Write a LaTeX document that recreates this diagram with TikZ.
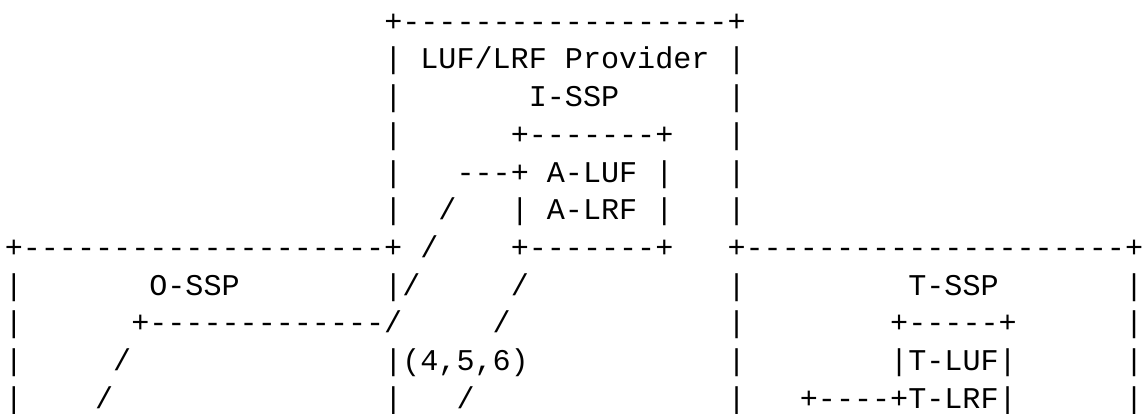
\documentclass[tikz,border=0pt]{standalone}
\usepackage{fontspec}
\setmonofont{Liberation Mono}
\tikzset{asc/.style={anchor=base west, inner sep=0pt, outer sep=0pt, text=black,
  font=\ttfamily\fontsize{30.11pt}{37.7pt}\selectfont}}
\newcommand\asciiseg[4]{\node[asc] (#1) at ({4.8pt+18.07pt*(#3)},{381.7pt-37.7pt*(#2)}) {#4};}
\begin{document}
\begin{tikzpicture}
\fill[white] (0,0) rectangle (1143pt,413pt);
\useasboundingbox (0,0) rectangle (1143pt,413pt);
% row 0
\asciiseg{r0a}{0}{21}{+------------------+}
% row 1
\asciiseg{r1a}{1}{21}{|}
\asciiseg{r1b}{1}{23}{LUF/LRF Provider}
\asciiseg{r1c}{1}{40}{|}
% row 2
\asciiseg{r2a}{2}{21}{|}
\asciiseg{r2b}{2}{29}{I-SSP}
\asciiseg{r2c}{2}{40}{|}
% row 3
\asciiseg{r3a}{3}{21}{|}
\asciiseg{r3b}{3}{28}{+-------+}
\asciiseg{r3c}{3}{40}{|}
% row 4
\asciiseg{r4a}{4}{21}{|}
\asciiseg{r4b}{4}{25}{---+}
\asciiseg{r4c}{4}{30}{A-LUF}
\asciiseg{r4d}{4}{36}{|}
\asciiseg{r4e}{4}{40}{|}
% row 5
\asciiseg{r5a}{5}{21}{|}
\asciiseg{r5b}{5}{24}{/}
\asciiseg{r5c}{5}{28}{|}
\asciiseg{r5d}{5}{30}{A-LRF}
\asciiseg{r5e}{5}{36}{|}
\asciiseg{r5f}{5}{40}{|}
% row 6
\asciiseg{r6a}{6}{0}{+--------------------+}
\asciiseg{r6b}{6}{23}{/}
\asciiseg{r6c}{6}{28}{+-------+}
\asciiseg{r6d}{6}{40}{+---------------------+}
% row 7
\asciiseg{r7a}{7}{0}{|}
\asciiseg{r7b}{7}{8}{O-SSP}
\asciiseg{r7c}{7}{21}{|/}
\asciiseg{r7d}{7}{28}{/}
\asciiseg{r7e}{7}{40}{|}
\asciiseg{r7f}{7}{50}{T-SSP}
\asciiseg{r7g}{7}{62}{|}
% row 8
\asciiseg{r8a}{8}{0}{|}
\asciiseg{r8b}{8}{7}{+-------------/}
\asciiseg{r8c}{8}{27}{/}
\asciiseg{r8d}{8}{40}{|}
\asciiseg{r8e}{8}{49}{+-----+}
\asciiseg{r8f}{8}{62}{|}
% row 9
\asciiseg{r9a}{9}{0}{|}
\asciiseg{r9b}{9}{6}{/}
\asciiseg{r9c}{9}{21}{|(4,5,6)}
\asciiseg{r9d}{9}{40}{|}
\asciiseg{r9e}{9}{49}{|T-LUF|}
\asciiseg{r9f}{9}{62}{|}
% row 10
\asciiseg{r10a}{10}{0}{|}
\asciiseg{r10b}{10}{5}{/}
\asciiseg{r10c}{10}{21}{|}
\asciiseg{r10d}{10}{25}{/}
\asciiseg{r10e}{10}{40}{|}
\asciiseg{r10f}{10}{44}{+----+T-LRF|}
\asciiseg{r10g}{10}{62}{|}
\end{tikzpicture}
\end{document}
